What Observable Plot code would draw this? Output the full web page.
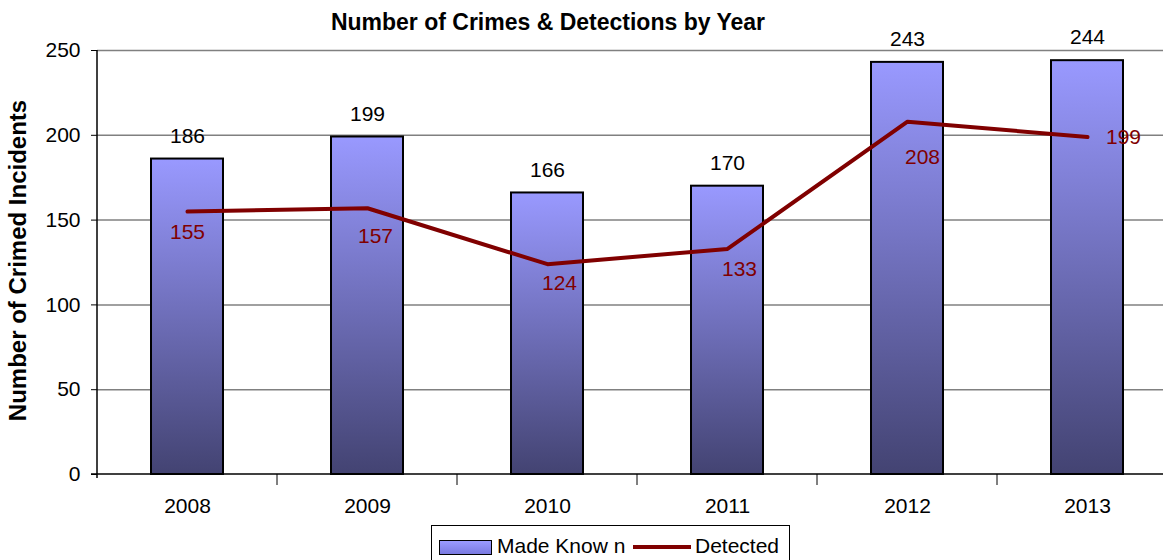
<!DOCTYPE html>
<html><head><meta charset="utf-8">
<script src="https://cdn.jsdelivr.net/npm/d3@7"></script>
<script src="https://cdn.jsdelivr.net/npm/@observablehq/plot@0.6"></script>
<style>
html,body{margin:0;padding:0;background:#fff;overflow:hidden;}
#wrap{position:relative;width:1163px;height:560px;overflow:hidden;font-family:"Liberation Sans",Arial,sans-serif;}
#title{position:absolute;left:0;top:8px;width:1096px;text-align:center;font-weight:bold;font-size:23px;color:#000;line-height:28px;}
#legend{position:absolute;left:431px;top:525px;width:359px;height:44px;border:1px solid #000;background:#fff;box-sizing:border-box;}
#legend .sw{position:absolute;left:7px;top:14px;width:51px;height:13px;border:1.5px solid #000;background:linear-gradient(#9a9aff,#7a7ae0);}
#legend .t1{position:absolute;left:65px;top:9px;font-size:21px;line-height:22px;}
#legend .ln{position:absolute;left:201px;top:19px;width:58px;height:4px;background:#800000;}
#legend .t2{position:absolute;left:263px;top:9px;font-size:21px;line-height:22px;}
</style></head>
<body>
<div id="wrap">
  <div id="chart"></div>
  <div id="title"></div>
  <div id="legend"><div class="sw"></div><div class="t1"></div><div class="ln"></div><div class="t2"></div></div>
</div>
<script>
// ---- data ----
const titleText = "Number of Crimes & Detections by Year";
const yLabel = "Number of Crimed Incidents";
const seriesNames = ["Made Know n", "Detected"];
const years = ["2008", "2009", "2010", "2011", "2012", "2013"];
const madeKnown = [186, 199, 166, 170, 243, 244];
const detected = [155, 157, 124, 133, 208, 199];
const yTicks = [0, 50, 100, 150, 200, 250];

// label placement for the Detected series (layout only)
const detLabelDx = [0, 8, 12, 12, 15, 36];
const detLabelDy = [21, 28, 19, 20, 36, 0];

const data = years.map((year, i) => ({year, madeKnown: madeKnown[i], detected: detected[i]}));

document.getElementById("title").textContent = titleText;
document.querySelector("#legend .t1").textContent = seriesNames[0];
document.querySelector("#legend .t2").textContent = seriesNames[1];

const FONT = "Liberation Sans, Arial, sans-serif";

const defsMark = () => {
  const g = d3.create("svg:g");
  const grad = g.append("defs").append("linearGradient")
    .attr("id", "barGrad").attr("x1", 0).attr("y1", 0).attr("x2", 0).attr("y2", 1);
  grad.append("stop").attr("offset", "0%").attr("stop-color", "#9999ff");
  grad.append("stop").attr("offset", "100%").attr("stop-color", "#434372");
  return g.node();
};

const axisLinesMark = (index, scales, values, dims) => {
  const g = d3.create("svg:g");
  const x = scales.x, y = scales.y;
  const bw = x.bandwidth ? x.bandwidth() : 0;
  const centers = years.map(v => x(v) + bw / 2);
  const left = dims.marginLeft, bottom = y(0);
  g.append("line").attr("x1", left).attr("x2", left).attr("y1", y(250)).attr("y2", bottom + 4)
    .attr("stroke", "#000").attr("stroke-width", 1.5);
  g.append("line").attr("x1", left - 6).attr("x2", dims.width).attr("y1", bottom).attr("y2", bottom)
    .attr("stroke", "#000").attr("stroke-width", 1.5);
  for (let i = 0; i < centers.length - 1; i++) {
    const bx = (centers[i] + centers[i + 1]) / 2;
    g.append("line").attr("x1", bx).attr("x2", bx).attr("y1", bottom).attr("y2", bottom + 11)
      .attr("stroke", "#000").attr("stroke-width", 1);
  }
  return g.node();
};

const marks = [
  defsMark,
  Plot.ruleY(yTicks.filter(v => v > 0), {stroke: "#808080", strokeWidth: 1.5}),
  Plot.barY(data, {x: "year", y: "madeKnown", fill: "url(#barGrad)", stroke: "#000", strokeWidth: 2}),
  Plot.line(data, {x: "year", y: "detected", stroke: "#800000", strokeWidth: 4}),
  Plot.text(data, {x: "year", y: "madeKnown", text: d => String(d.madeKnown), dy: -23, fontSize: 21, fill: "#000"}),
  ...data.map((d, i) => Plot.text([d], {x: "year", y: "detected", text: d => String(d.detected),
      dx: detLabelDx[i], dy: detLabelDy[i], fontSize: 21, fill: "#800000"})),
  axisLinesMark,
  Plot.axisY({ticks: yTicks, tickSize: 6, tickPadding: 11, fontSize: 21, label: null, stroke: "#000"}),
  Plot.axisX({tickSize: 0, tickPadding: 24, fontSize: 21, label: null}),
  Plot.text([yLabel], {frameAnchor: "left", dx: -79, dy: -2, rotate: -90, textAnchor: "middle",
      fontSize: 24, fontWeight: "bold", fill: "#000"})
];

const chart = Plot.plot({
  width: 1163,
  height: 560,
  marginTop: 50,
  marginBottom: 86,
  marginLeft: 97,
  marginRight: 0,
  x: {type: "band", domain: years, range: [97, 1177], paddingInner: 0.6, paddingOuter: 0.3},
  y: {domain: [0, 250], range: [474, 50]},
  style: {fontFamily: FONT, background: "white", color: "#000", overflow: "hidden"},
  marks
});
document.getElementById("chart").appendChild(chart);
</script>
</body></html>
